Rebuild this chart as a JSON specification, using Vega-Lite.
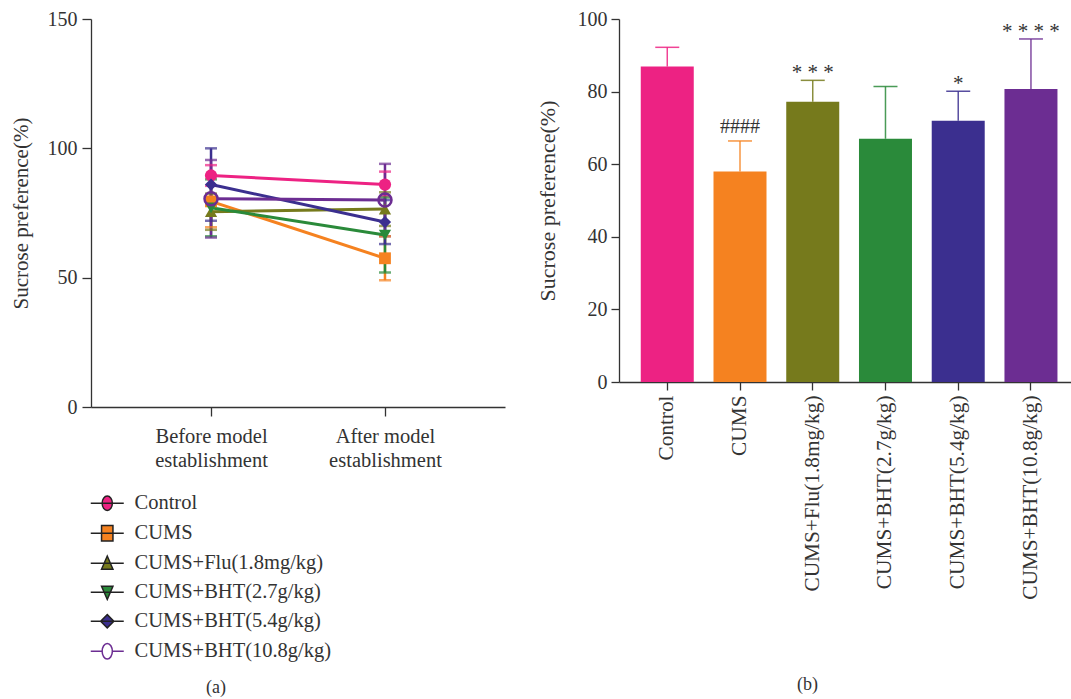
{
  "$schema": "https://vega.github.io/schema/vega-lite/v6.json",
  "padding": {"left": 10, "top": 9, "right": 0, "bottom": 0},
  "background": "white",
  "config": {
    "font": "Liberation Serif",
    "view": {"stroke": null},
    "axis": {
      "domainColor": "#333", "tickColor": "#333", "labelColor": "#333", "titleColor": "#333",
      "labelFont": "Liberation Serif", "titleFont": "Liberation Serif", "titleFontWeight": "normal",
      "grid": false, "domainWidth": 1.3, "tickWidth": 1.3, "labelLimit": 400
    },
    "legend": {"labelFont": "Liberation Serif", "labelColor": "#333", "labelFontSize": 20.5, "padding": 0, "labelLimit": 400}
  },
  "spacing": 31,
  "resolve": {
    "scale": {"stroke": "independent", "fill": "independent", "shape": "independent"},
    "legend": {"stroke": "independent", "fill": "independent", "shape": "independent"}
  },
  "hconcat": [
    {
      "width": 414,
      "height": 388,
      "title": {"text": "(a)", "orient": "bottom", "offset": 16, "dx": -82, "fontSize": 18, "fontWeight": "normal", "font": "Liberation Serif", "color": "#333"},
      "data": {"values": [
        {"group": "Control", "time": "Before model establishment", "mean": 89.5, "lo": 85.5, "hi": 93.5},
        {"group": "Control", "time": "After model establishment", "mean": 86, "lo": 81.5, "hi": 91},
        {"group": "CUMS", "time": "Before model establishment", "mean": 79.5, "lo": 69.5, "hi": 89.5},
        {"group": "CUMS", "time": "After model establishment", "mean": 57.5, "lo": 49, "hi": 66},
        {"group": "CUMS+Flu(1.8mg/kg)", "time": "Before model establishment", "mean": 75.5, "lo": 68.5, "hi": 82.5},
        {"group": "CUMS+Flu(1.8mg/kg)", "time": "After model establishment", "mean": 76.5, "lo": 70, "hi": 83},
        {"group": "CUMS+BHT(2.7g/kg)", "time": "Before model establishment", "mean": 77, "lo": 66, "hi": 88},
        {"group": "CUMS+BHT(2.7g/kg)", "time": "After model establishment", "mean": 66.5, "lo": 52, "hi": 81},
        {"group": "CUMS+BHT(5.4g/kg)", "time": "Before model establishment", "mean": 86, "lo": 72, "hi": 100},
        {"group": "CUMS+BHT(5.4g/kg)", "time": "After model establishment", "mean": 71.5, "lo": 63, "hi": 80},
        {"group": "CUMS+BHT(10.8g/kg)", "time": "Before model establishment", "mean": 80.5, "lo": 65.5, "hi": 95.5},
        {"group": "CUMS+BHT(10.8g/kg)", "time": "After model establishment", "mean": 80, "lo": 66, "hi": 94}
      ]},
      "encoding": {
        "x": {
          "field": "time", "type": "nominal",
          "sort": ["Before model establishment", "After model establishment"],
          "scale": {"type": "point", "padding": 0.69},
          "axis": {
            "title": null, "labelAngle": 0, "labelFontSize": 20.5, "tickSize": 9, "labelPadding": 10,
            "labelLineHeight": 24,
            "labelExpr": "datum.label == 'Before model establishment' ? ['Before model', 'establishment'] : ['After model', 'establishment']"
          }
        },
        "y": {"field": "mean", "type": "quantitative", "scale": {"domain": [0, 150], "nice": false},
          "axis": {"values": [0, 50, 100, 150], "title": "Sucrose preference(%)", "titleFontSize": 21, "labelFontSize": 20, "tickSize": 9, "labelPadding": 5, "titlePadding": 16}},
        "color": {"field": "group", "type": "nominal", "legend": null,
          "scale": {"domain": ["Control", "CUMS", "CUMS+Flu(1.8mg/kg)", "CUMS+BHT(2.7g/kg)", "CUMS+BHT(5.4g/kg)", "CUMS+BHT(10.8g/kg)"],
            "range": ["#ED2283", "#F58220", "#767A1C", "#2A8A3A", "#3B2F8F", "#6C2D92"]}}
      },
      "layer": [
        {
          "mark": {"type": "rule", "strokeWidth": 2.5},
          "encoding": {
            "y": {"field": "lo", "type": "quantitative"},
            "y2": {"field": "hi"}
          }
        },
        {
          "mark": {"type": "tick", "thickness": 2.5, "size": 12},
          "encoding": {"y": {"field": "lo", "type": "quantitative"}}
        },
        {
          "mark": {"type": "tick", "thickness": 2.5, "size": 12},
          "encoding": {"y": {"field": "hi", "type": "quantitative"}}
        },
        {
          "mark": {"type": "line", "strokeWidth": 3},
          "encoding": {}
        },
        {
          "transform": [{"filter": "datum.group == 'Control'"}],
          "mark": {"type": "point", "shape": "circle", "size": 150, "filled": true, "opacity": 1},
          "encoding": {}
        },
        {
          "transform": [{"filter": "datum.group == 'CUMS'"}],
          "mark": {"type": "point", "shape": "square", "size": 140, "filled": true, "opacity": 1},
          "encoding": {}
        },
        {
          "transform": [{"filter": "datum.group == 'CUMS+Flu(1.8mg/kg)'"}],
          "mark": {"type": "point", "shape": "triangle-up", "size": 150, "filled": true, "opacity": 1},
          "encoding": {}
        },
        {
          "transform": [{"filter": "datum.group == 'CUMS+BHT(2.7g/kg)'"}],
          "mark": {"type": "point", "shape": "triangle-down", "size": 150, "filled": true, "opacity": 1},
          "encoding": {}
        },
        {
          "transform": [{"filter": "datum.group == 'CUMS+BHT(5.4g/kg)'"}],
          "mark": {"type": "point", "shape": "diamond", "size": 150, "filled": true, "opacity": 1},
          "encoding": {}
        },
        {
          "transform": [{"filter": "datum.group == 'CUMS+BHT(10.8g/kg)'"}],
          "mark": {"type": "point", "shape": "circle", "size": 170, "filled": false, "strokeWidth": 2.5, "opacity": 1},
          "encoding": {}
        },
        {
          "transform": [{"filter": "false"}],
          "mark": {"type": "point", "size": 144, "strokeWidth": 1.3, "opacity": 1, "filled": true},
          "encoding": {
            "color": {"value": "#333"},
            "shape": {"field": "group", "type": "nominal",
              "scale": {"domain": ["Control", "CUMS", "CUMS+Flu(1.8mg/kg)", "CUMS+BHT(2.7g/kg)", "CUMS+BHT(5.4g/kg)", "CUMS+BHT(10.8g/kg)"],
                "range": [
                  "M-2.75,0H2.75M0,-1.2A0.85,1.2,0,1,1,0,1.2A0.85,1.2,0,1,1,0,-1.2Z",
                  "M-2.75,0H2.75M-0.95,-1.3H0.95V1.3H-0.95Z",
                  "M-2.75,0H2.75M0,-1.2L0.95,1L-0.95,1Z",
                  "M-2.75,0H2.75M0,1.2L0.95,-1L-0.95,-1Z",
                  "M-2.75,0H2.75M0,-1.1L1.1,0L0,1.1L-1.1,0Z",
                  "M-2.75,0H-0.85M0.85,0H2.75M0,-1.3A0.85,1.3,0,1,1,0,1.3A0.85,1.3,0,1,1,0,-1.3Z"
                ]},
              "legend": {"title": null, "orient": "none", "legendX": 6, "legendY": 474, "symbolSize": 144, "labelOffset": 17, "rowPadding": 8}},
            "stroke": {"field": "group", "type": "nominal",
              "scale": {"domain": ["Control", "CUMS", "CUMS+Flu(1.8mg/kg)", "CUMS+BHT(2.7g/kg)", "CUMS+BHT(5.4g/kg)", "CUMS+BHT(10.8g/kg)"],
                "range": ["#222", "#222", "#222", "#222", "#222", "#6C2D92"]},
              "legend": {"title": null, "orient": "none", "legendX": 6, "legendY": 474, "symbolSize": 144, "labelOffset": 17, "rowPadding": 8}},
            "fill": {"field": "group", "type": "nominal",
              "scale": {"domain": ["Control", "CUMS", "CUMS+Flu(1.8mg/kg)", "CUMS+BHT(2.7g/kg)", "CUMS+BHT(5.4g/kg)", "CUMS+BHT(10.8g/kg)"],
                "range": ["#ED2283", "#F58220", "#767A1C", "#2A8A3A", "#3B2F8F", "transparent"]},
              "legend": {"title": null, "orient": "none", "legendX": 6, "legendY": 474, "symbolSize": 144, "labelOffset": 17, "rowPadding": 8}}
          }
        }
      ]
    },
    {
      "width": 457,
      "height": 363,
      "title": {"text": "(b)", "orient": "bottom", "offset": 77, "dx": -40, "fontSize": 18, "fontWeight": "normal", "font": "Liberation Serif", "color": "#333"},
      "data": {"values": [
        {"group": "Control", "mean": 86.9, "upper": 92.2, "sig": ""},
        {"group": "CUMS", "mean": 58, "upper": 66.4, "sig": "####"},
        {"group": "CUMS+Flu(1.8mg/kg)", "mean": 77.2, "upper": 83.1, "sig": "* * *"},
        {"group": "CUMS+BHT(2.7g/kg)", "mean": 67, "upper": 81.4, "sig": ""},
        {"group": "CUMS+BHT(5.4g/kg)", "mean": 72, "upper": 80.1, "sig": "*"},
        {"group": "CUMS+BHT(10.8g/kg)", "mean": 80.7, "upper": 94.5, "sig": "* * * *"}
      ]},
      "encoding": {
        "x": {
          "field": "group", "type": "nominal",
          "sort": ["Control", "CUMS", "CUMS+Flu(1.8mg/kg)", "CUMS+BHT(2.7g/kg)", "CUMS+BHT(5.4g/kg)", "CUMS+BHT(10.8g/kg)"],
          "scale": {"paddingInner": 0.2714, "paddingOuter": 0.277, "align": 0.54},
          "axis": {"title": null, "labelAngle": -90, "labelFontSize": 21.3, "tickSize": 8, "labelPadding": 5}
        },
        "y": {"field": "mean", "type": "quantitative", "scale": {"domain": [0, 100], "nice": false},
          "axis": {"values": [0, 20, 40, 60, 80, 100], "title": "Sucrose preference(%)", "titleFontSize": 22, "labelFontSize": 20, "tickSize": 8, "labelPadding": 4, "titlePadding": 18}},
        "color": {"field": "group", "type": "nominal", "legend": null,
          "scale": {"domain": ["Control", "CUMS", "CUMS+Flu(1.8mg/kg)", "CUMS+BHT(2.7g/kg)", "CUMS+BHT(5.4g/kg)", "CUMS+BHT(10.8g/kg)"],
            "range": ["#ED2283", "#F58220", "#767A1C", "#2A8A3A", "#3B2F8F", "#6C2D92"]}}
      },
      "layer": [
        {"mark": {"type": "bar"}, "encoding": {}},
        {
          "mark": {"type": "rule", "strokeWidth": 1.5, "opacity": 0.85},
          "encoding": {"y2": {"field": "upper"}}
        },
        {
          "mark": {"type": "tick", "thickness": 1.5, "size": 24, "opacity": 0.85},
          "encoding": {"y": {"field": "upper", "type": "quantitative"}}
        },
        {
          "transform": [{"filter": "datum.sig == '####'"}],
          "mark": {"type": "text", "baseline": "bottom", "dy": -4, "fontSize": 20, "font": "Liberation Serif"},
          "encoding": {
            "y": {"field": "upper", "type": "quantitative"},
            "text": {"field": "sig"},
            "color": {"value": "#333"}
          }
        },
        {
          "transform": [{"filter": "datum.sig != '####' && datum.sig != ''"}],
          "mark": {"type": "text", "baseline": "bottom", "dy": 3, "fontSize": 21, "font": "Liberation Serif"},
          "encoding": {
            "y": {"field": "upper", "type": "quantitative"},
            "text": {"field": "sig"},
            "color": {"value": "#333"}
          }
        }
      ]
    }
  ]
}
